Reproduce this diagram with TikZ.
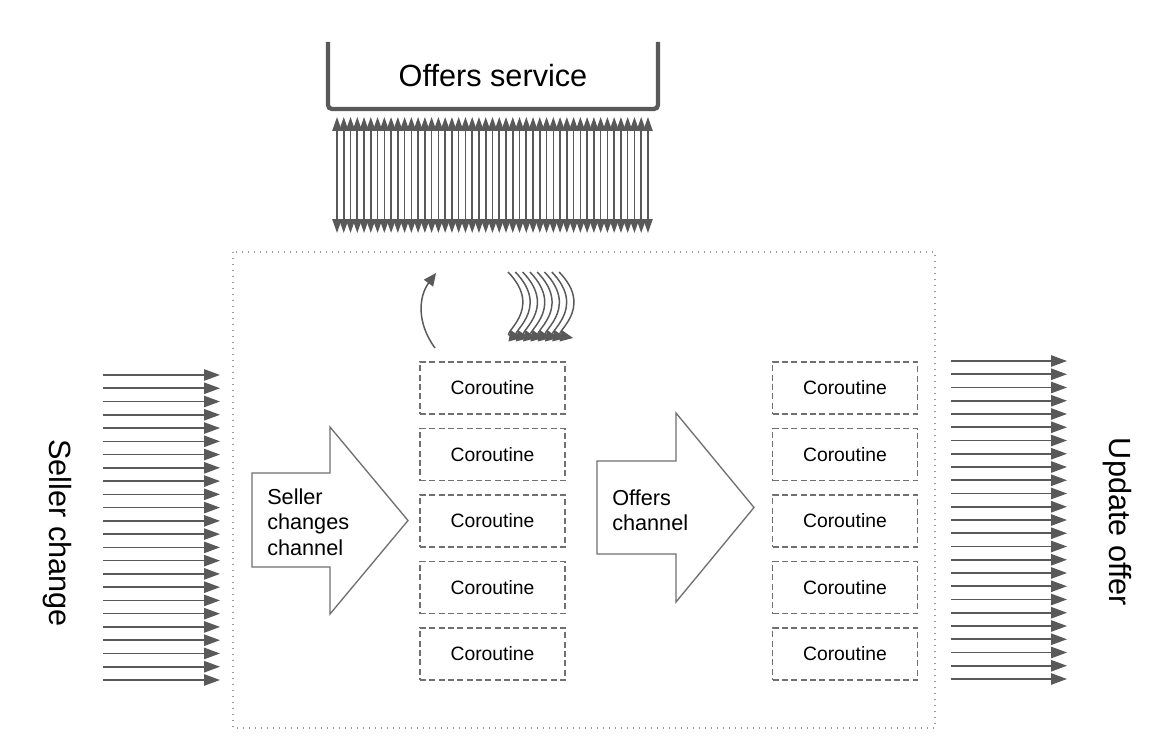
\documentclass[tikz,border=0pt]{standalone}
\usepackage{fontspec}
\setmainfont{Liberation Sans}
\usetikzlibrary{arrows.meta}
\definecolor{arrowgray}{HTML}{595959}
\definecolor{boxgray}{HTML}{707070}
\definecolor{dotgray}{HTML}{9A9A9A}
\begin{document}
\begin{tikzpicture}[x=0.75pt,y=-0.75pt,
  flow/.style={draw=arrowgray, line width=1.2pt, -{Triangle[length=12pt,width=8.5pt]}},
  duplex/.style={draw=arrowgray, line width=1.2pt, {Triangle[length=10.5pt,width=7pt]}-{Triangle[length=10.5pt,width=7pt]}},
  curvy/.style={draw=arrowgray, line width=1.1pt, -{Triangle[length=9.5pt,width=8.5pt]}},
  corobox/.style={draw=boxgray, line width=1.1pt, dash pattern=on 4.5pt off 2.5pt, minimum width=108.75pt, minimum height=39pt, inner sep=0pt, font=\fontsize{14.5}{17}\selectfont},
  bigarrow/.style={draw=boxgray, line width=1pt, fill=white},
  bigtext/.style={font=\fontsize{23}{27}\selectfont, inner sep=0pt},
  chantext/.style={font=\fontsize{16.25}{19}\selectfont, align=left, anchor=west, inner sep=0pt}
]
\useasboundingbox (0,0) rectangle (1156,756);
\fill[white] (0,0) rectangle (1156,756);

% Offers service
\draw[arrowgray, line width=3.2pt, rounded corners=3pt] (328,42) -- (328,109) -- (658,109) -- (658,42);
\node[bigtext] (svc) at (493,76) {Offers service};

% duplex arrows
\foreach \i in {0,...,46} {
  \coordinate (up\i) at ({337+\i*6.76},117);
  \coordinate (dn\i) at ({337+\i*6.76},233);
  \draw[duplex] (up\i) -- (dn\i);
}

% container
\draw[dotgray, line width=0.9pt, dash pattern=on 0.9pt off 3.6pt] (233,252) rectangle (935,728);

% left arrows
\foreach \i in {0,...,23} {
  \coordinate (ls\i) at (103,{375+\i*13.26});
  \coordinate (le\i) at (220,{375+\i*13.26});
  \draw[flow] (ls\i) -- (le\i);
}
% right arrows
\foreach \i in {0,...,24} {
  \coordinate (rs\i) at (951,{361+\i*13.25});
  \coordinate (re\i) at (1067,{361+\i*13.25});
  \draw[flow] (rs\i) -- (re\i);
}
\node[bigtext, rotate=-90] (seller) at (57,533) {Seller change};
\node[bigtext, rotate=-90] (update) at (1117,522) {Update offer};

% big arrows
\draw[bigarrow] (252,473) -- (330,473) -- (330,427) -- (408,520.5) -- (330,614) -- (330,567) -- (252,567) -- cycle;
\node[chantext] (sch) at (267,522) {Seller\\changes\\channel};
\draw[bigarrow] (597,461) -- (676,461) -- (676,413) -- (754,507.5) -- (676,602) -- (676,554) -- (597,554) -- cycle;
\node[chantext] (och) at (612,510) {Offers\\channel};

% coroutines
\foreach \i in {0,...,4} {
  \node[corobox] (cl\i) at (492.5,{388+\i*66.5}) {Coroutine};
  \node[corobox] (cr\i) at (845,{388+\i*66.5}) {Coroutine};
}

% curved arrows
\coordinate (ret0) at (435,348);
\coordinate (ret1) at (436,273);
\draw[curvy] (ret0) .. controls (416,322) and (419,296) .. (ret1);

\foreach \i in {0,...,7} {
  \coordinate (bs\i) at ({508+\i*7.3},272);
  \coordinate (be\i) at ({522+\i*7.3},338);
  \draw[curvy] (bs\i) .. controls ({545+\i*7.3},310) and ({500+\i*7.3},334) .. (be\i);
}
\end{tikzpicture}
\end{document}
